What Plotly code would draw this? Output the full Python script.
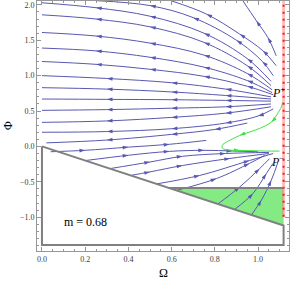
import numpy as np
import plotly.graph_objects as go

# ---------------- data ----------------
# streamlines leaving P+ towards the left edge (flow points left)
upper_omega = [
    [0, 0.25, 0.5, 0.75, 0.95, 1.06],
    [0, 0.25, 0.5, 0.75, 0.95, 1.06],
    [0, 0.25, 0.5, 0.75, 0.95, 1.065],
    [0, 0.25, 0.5, 0.75, 0.95, 1.065],
    [0, 0.25, 0.5, 0.75, 0.95, 1.07],
    [0, 0.3, 0.6, 0.85, 1.06],
    [0, 0.3, 0.6, 0.85, 1.06],
    [0, 0.3, 0.6, 0.85, 1.06],
    [0, 0.3, 0.6, 0.85, 1.06],
    [0, 0.3, 0.6, 0.85, 1.06],
    [0, 0.3, 0.6, 0.85, 1.0, 1.07],
    [0.02, 0.3, 0.6, 0.8, 0.95],
]
upper_phi = [
    [2.03, 1.96, 1.84, 1.60, 1.24, 0.92],
    [1.86, 1.80, 1.69, 1.47, 1.14, 0.86],
    [1.61, 1.56, 1.46, 1.29, 1.03, 0.80],
    [1.39, 1.35, 1.26, 1.12, 0.93, 0.76],
    [1.20, 1.16, 1.09, 0.99, 0.85, 0.73],
    [1.00, 0.96, 0.90, 0.81, 0.70],
    [0.83, 0.81, 0.77, 0.72, 0.67],
    [0.67, 0.665, 0.66, 0.65, 0.64],
    [0.51, 0.52, 0.54, 0.56, 0.60],
    [0.34, 0.36, 0.41, 0.47, 0.56],
    [0.20, 0.21, 0.25, 0.33, 0.43, 0.53],
    [0.05, 0.09, 0.17, 0.24, 0.33],
]
# streamlines leaving P+ through the top edge (flow points up)
top_omega = [
    [0.25, 0.5, 0.7, 0.9, 1.02, 1.07],
    [0.6, 0.761, 0.915, 1.022, 1.084],
    [0.93, 0.992, 1.045, 1.084],
]
top_phi = [
    [2.06, 1.99, 1.82, 1.50, 1.20, 1.00],
    [2.056, 1.87, 1.587, 1.352, 1.14],
    [2.056, 1.775, 1.54, 1.28],
]
# streamlines running towards P- (flow points right)
lower_omega = [
    [0.04, 0.2, 0.4, 0.59, 0.76],
    [0.2, 0.4, 0.59, 0.75, 0.88, 1.0],
    [0.314, 0.5, 0.65, 0.85, 1.05],
    [0.41, 0.5, 0.65, 0.87, 1.05],
    [0.53, 0.73, 0.96, 1.07],
    [0.622, 0.807, 0.96, 1.03],
    [0.814, 0.915, 1.007, 1.053],
    [0.891, 0.976, 1.038, 1.068],
    [0.969, 1.015, 1.061, 1.092],
]
lower_phi = [
    [-0.075, -0.055, -0.01, 0.03, 0.085],
    [-0.2, -0.125, -0.07, -0.055, -0.065, -0.075],
    [-0.314, -0.22, -0.14, -0.10, -0.085],
    [-0.41, -0.36, -0.27, -0.17, -0.10],
    [-0.53, -0.41, -0.20, -0.10],
    [-0.622, -0.455, -0.24, -0.127],
    [-0.814, -0.573, -0.314, -0.173],
    [-0.891, -0.666, -0.385, -0.244],
    [-0.969, -0.76, -0.479, -0.221],
]
# heteroclinic orbit P+ -> P- (green)
sep_omega = [1.113, 1.107, 1.061, 1.007, 0.915, 0.853, 0.835, 0.834, 0.852, 0.915, 1.038, 1.099]
sep_phi = [0.624, 0.553, 0.342, 0.254, 0.155, 0.061, 0.02, -0.025, -0.048, -0.056, -0.066, -0.066]

# forbidden region outline and shaded zone
wall_omega = [0, 1.118, 1.118, 0, 0]
wall_phi = [0, -1.118, -1.394, -1.394, 0]
shelf_omega = [0.587, 1.118]
shelf_phi = [-0.587, -0.587]
shade_omega = [0.587, 1.118, 1.118, 0.587]
shade_phi = [-0.587, -0.587, -1.118, -0.587]
# red boundary line
red_omega = [1.118, 1.118]
red_phi = [2.2, -1.0]

x_ticks = [0.0, 0.2, 0.4, 0.6, 0.8, 1.0]
y_ticks = [-1.0, -0.5, 0.0, 0.5, 1.0, 1.5, 2.0]

# ---------------- layout constants ----------------
W, H = 291, 282
ML, MR, MT, MB = 37, 2, 1, 31
XR = [-0.023, 1.143]
YR = [-1.478, 2.055]
px_x = (W - ML - MR) / (XR[1] - XR[0])
px_y = (H - MT - MB) / (YR[1] - YR[0])

BLUE = "rgb(88,88,178)"
GREEN = "rgb(60,225,60)"

fig = go.Figure()

# shaded green zone
fig.add_trace(go.Scatter(x=shade_omega, y=shade_phi, fill="toself",
                         fillcolor="rgb(132,234,132)", line=dict(width=0),
                         mode="lines", hoverinfo="skip", showlegend=False))


def arrows(xs, ys, reverse, skip=()):
    ax, ay, ang = [], [], []
    for i in range(1, len(xs) - 1):
        if i in skip:
            continue
        dx = (xs[i + 1] - xs[i - 1]) * px_x
        dy = (ys[i + 1] - ys[i - 1]) * px_y
        if reverse:
            dx, dy = -dx, -dy
        ax.append(xs[i])
        ay.append(ys[i])
        ang.append(float(np.degrees(np.arctan2(dx, dy))))
    return ax, ay, ang


def add_family(oms, phs, reverse, color, smoothing=1.0, skip=()):
    AX, AY, AN = [], [], []
    for xs, ys in zip(oms, phs):
        fig.add_trace(go.Scatter(x=xs, y=ys, mode="lines",
                                 line=dict(color=color, width=1, shape="spline", smoothing=smoothing),
                                 hoverinfo="skip", showlegend=False))
        a, b, c = arrows(xs, ys, reverse, skip)
        AX += a; AY += b; AN += c
    fig.add_trace(go.Scatter(x=AX, y=AY, mode="markers",
                             marker=dict(symbol="arrow", size=6, color=color,
                                         angle=AN, line=dict(width=0)),
                             hoverinfo="skip", showlegend=False))


add_family(upper_omega, upper_phi, True, BLUE)
add_family(top_omega, top_phi, True, BLUE)
add_family(lower_omega, lower_phi, False, BLUE)
add_family([sep_omega], [sep_phi], False, GREEN, smoothing=0.7, skip=(1, 3, 5, 6, 7, 8, 10))

# red boundary: pale band plus red dots
fig.add_trace(go.Scatter(x=red_omega, y=red_phi, mode="lines",
                         line=dict(color="rgba(255,110,110,0.45)", width=3),
                         hoverinfo="skip", showlegend=False))
fig.add_trace(go.Scatter(x=red_omega, y=red_phi, mode="lines",
                         line=dict(color="rgb(240,30,30)", width=2, dash="2px,5px"),
                         hoverinfo="skip", showlegend=False))

# gray outline of the forbidden region
fig.add_trace(go.Scatter(x=wall_omega, y=wall_phi, mode="lines",
                         line=dict(color="rgb(128,128,128)", width=2),
                         hoverinfo="skip", showlegend=False))
fig.add_trace(go.Scatter(x=shelf_omega, y=shelf_phi, mode="lines",
                         line=dict(color="rgb(128,128,128)", width=2),
                         hoverinfo="skip", showlegend=False))

serif = "Liberation Serif, Times New Roman, serif"
fig.add_annotation(x=0.2, y=-1.07, text="m = 0.68", showarrow=False,
                   font=dict(family=serif, size=12, color="black"))
fig.add_annotation(x=1.095, y=0.76, text="<i>P</i><sup>+</sup>", showarrow=False,
                   font=dict(family=serif, size=12, color="black"))
fig.add_annotation(x=1.09, y=-0.21, text="<i>P</i><sup>\u2212</sup>", showarrow=False,
                   font=dict(family=serif, size=12, color="black"))

# axis titles
fig.add_annotation(xref="paper", yref="paper", x=(8 - ML) / (W - ML - MR), y=0.5,
                   xanchor="center", yanchor="middle",
                   text="\u03a6", textangle=-90, showarrow=False,
                   font=dict(family=serif, size=12, color="black"))
fig.add_annotation(xref="paper", yref="paper", x=0.5, y=-(273 - (H - MB)) / (H - MT - MB),
                   xanchor="center", yanchor="middle",
                   text="\u03a9", showarrow=False,
                   font=dict(family=serif, size=12, color="black"))

axis_common = dict(showgrid=False, zeroline=False, showline=True, linecolor="rgb(150,150,150)",
                   linewidth=1, mirror="allticks", ticks="inside", ticklen=4,
                   tickcolor="rgb(150,150,150)", tickwidth=1,
                   tickfont=dict(family=serif, size=8, color="rgb(60,60,60)"))

fig.update_xaxes(range=XR, tickvals=x_ticks, ticktext=[f"{v:.1f}" for v in x_ticks],
                 minor=dict(dtick=0.05, ticks="inside", ticklen=2, tickcolor="rgb(150,150,150)"),
                 **axis_common)
fig.update_yaxes(range=YR, tickvals=y_ticks,
                 ticktext=[f"{v:.1f}".replace("-", "\u2212") for v in y_ticks],
                 minor=dict(dtick=0.1, ticks="inside", ticklen=2, tickcolor="rgb(150,150,150)"),
                 **axis_common)

fig.update_layout(width=W, height=H, margin=dict(l=ML, r=MR, t=MT, b=MB),
                  paper_bgcolor="white", plot_bgcolor="white", showlegend=False)

fig.write_html("out.html", config={"displayModeBar": False, "staticPlot": True})
with open("out.html", "r", encoding="utf-8") as f:
    html = f.read()
html = html.replace("<head>", "<head><style>html,body{margin:0;padding:0;overflow:hidden;}</style>", 1)
with open("out.html", "w", encoding="utf-8") as f:
    f.write(html)
